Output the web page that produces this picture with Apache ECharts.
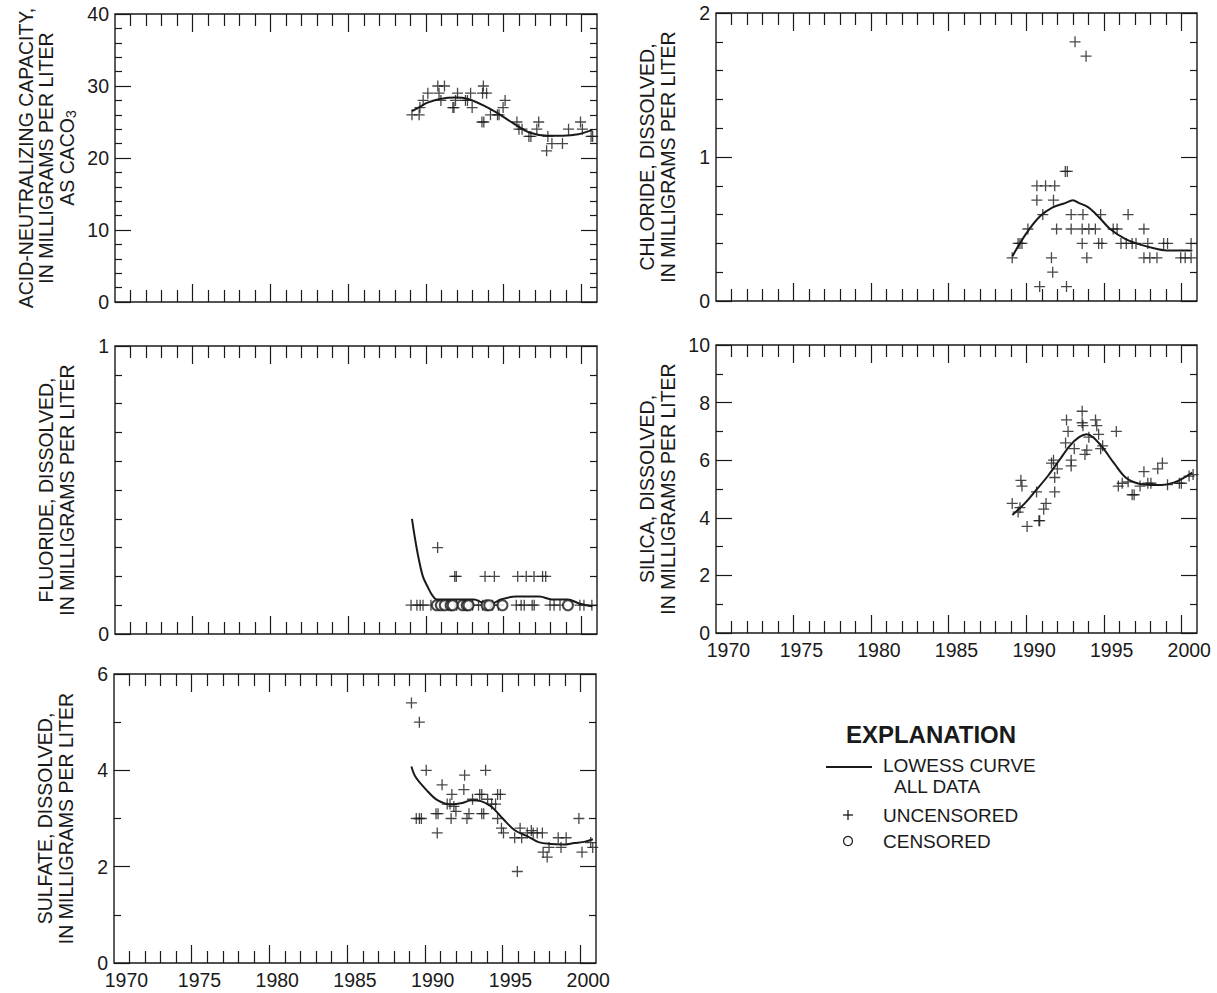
<!DOCTYPE html>
<html>
<head>
<meta charset="utf-8">
<script src="https://cdn.jsdelivr.net/npm/echarts@6/dist/echarts.min.js"></script>
<style>
html,body{margin:0;padding:0;background:#fff;}
#chart{width:1217px;height:993px;}
</style>
</head>
<body>
<div id="chart"></div>
<script>
// ---------- axis ticks / labels ----------
const X_MIN = 1970;
const X_MAX = 2001;
const MAJOR_YEARS = [1975, 1980, 1985, 1990, 1995, 2000];
const MINOR_YEARS = [1971,1972,1973,1974,1976,1977,1978,1979,1981,1982,1983,1984,1986,1987,1988,1989,1991,1992,1993,1994,1996,1997,1998,1999];
const YEAR_LABELS = [1970, 1975, 1980, 1985, 1990, 1995, 2000];

// ---------- Panel 1: acid-neutralizing capacity ----------
const ANC_UNCENSORED = [
  [1989.10,26],[1989.56,26],[1989.61,27],[1989.82,28],[1990.12,29],[1990.76,30],[1991.19,30],
  [1990.84,29],[1990.96,28],[1991.73,27],[1991.80,27],[1991.90,28],[1992.03,29],[1992.54,28],
  [1992.67,28],[1992.87,29],[1992.97,27],[1993.69,30],[1993.64,29],[1993.90,29],[1993.60,25],
  [1993.72,25],[1994.15,26],[1994.60,26],[1994.70,26],[1994.96,27],[1995.09,28],[1995.85,25],
  [1995.98,24],[1996.18,24],[1996.62,23],[1996.75,23],[1997.25,25],[1997.13,24],[1997.76,21],
  [1997.84,23],[1998.10,22],[1998.78,22],[1999.17,24],[1999.94,25],[2000.06,24],[2000.62,23],[2000.72,23]
];
const ANC_LOWESS = [
  [1989.1,26.5],[1989.6,27.1],[1990.1,27.7],[1990.9,28.2],[1991.9,28.4],[1992.7,28.2],[1993.7,27.3],
  [1994.7,26.1],[1995.7,24.7],[1996.7,23.5],[1997.8,23.1],[1998.8,23.1],[1999.8,23.3],[2000.7,23.9]
];

// ---------- Panel 2: chloride ----------
const CL_UNCENSORED = [
  [1989.09,0.3],[1989.47,0.4],[1989.59,0.4],[1989.72,0.4],[1990.10,0.5],[1990.68,0.8],[1991.24,0.8],
  [1991.83,0.8],[1990.68,0.7],[1991.75,0.7],[1991.06,0.6],[1990.86,0.1],[1991.62,0.3],[1991.70,0.2],
  [1991.95,0.5],[1992.51,0.9],[1992.64,0.9],[1992.59,0.1],[1993.14,1.8],[1993.85,1.7],[1992.89,0.6],
  [1993.65,0.6],[1992.89,0.5],[1993.60,0.5],[1994.03,0.5],[1994.45,0.5],[1993.60,0.4],[1993.90,0.3],
  [1994.79,0.6],[1994.66,0.4],[1994.87,0.4],[1995.60,0.5],[1995.85,0.5],[1996.56,0.6],[1996.10,0.4],
  [1996.44,0.4],[1996.82,0.4],[1997.07,0.4],[1997.83,0.4],[1997.58,0.5],[1997.58,0.3],[1997.96,0.3],
  [1998.42,0.3],[1998.85,0.4],[1999.10,0.4],[1999.95,0.3],[2000.24,0.3],[2000.62,0.3],[2000.62,0.4]
];
const CL_LOWESS = [
  [1989.1,0.31],[1990.0,0.47],[1990.9,0.59],[1991.7,0.65],[1992.5,0.68],[1993.0,0.70],[1993.4,0.68],
  [1994.0,0.65],[1994.7,0.58],[1995.4,0.50],[1996.4,0.43],[1997.4,0.39],[1998.5,0.36],[1999.2,0.35],[2000.7,0.35]
];

// ---------- Panel 3: fluoride ----------
const F_UNCENSORED = [
  [1989.04,0.1],[1989.42,0.1],[1989.63,0.1],[1989.81,0.1],[1990.32,0.1],[1991.42,0.1],[1991.98,0.1],
  [1993.00,0.1],[1993.38,0.1],[1993.64,0.1],[1994.28,0.1],[1994.66,0.1],[1995.81,0.1],[1996.12,0.1],
  [1996.32,0.1],[1996.83,0.1],[1996.96,0.1],[1997.98,0.1],[1998.24,0.1],[1998.62,0.1],[1999.90,0.1],
  [2000.16,0.1],[2000.67,0.1],
  [1990.75,0.3],
  [1991.85,0.2],[1991.95,0.2],[1993.80,0.2],[1994.40,0.2],[1995.90,0.2],[1996.45,0.2],[1996.95,0.2],
  [1997.50,0.2],[1997.70,0.2]
];
const F_CENSORED = [
  [1990.70,0.1],[1990.96,0.1],[1991.21,0.1],[1991.59,0.1],[1991.72,0.1],[1992.36,0.1],[1992.62,0.1],
  [1992.74,0.1],[1993.90,0.1],[1994.07,0.1],[1994.92,0.1],[1999.13,0.1]
];
const F_LOWESS = [
  [1989.1,0.40],[1989.3,0.33],[1989.5,0.27],[1989.8,0.20],[1990.1,0.165],[1990.4,0.135],[1990.7,0.12],
  [1991.7,0.12],[1993.1,0.12],[1993.6,0.11],[1994.3,0.107],[1994.8,0.12],[1995.8,0.13],[1997.3,0.13],
  [1998.1,0.12],[1999.1,0.12],[1999.9,0.105],[2000.7,0.096]
];

// ---------- Panel 4: silica ----------
const SI_UNCENSORED = [
  [1989.09,4.5],[1989.47,4.2],[1989.59,4.35],[1989.65,5.3],[1989.72,5.1],[1990.05,3.7],[1990.66,4.9],
  [1990.81,3.9],[1990.86,3.9],[1991.12,4.3],[1991.27,4.5],[1991.62,5.9],[1991.75,6.0],[1991.83,5.4],
  [1991.83,4.9],[1992.00,5.7],[1992.53,6.6],[1992.59,7.4],[1992.69,7.0],[1992.89,6.0],[1992.89,5.8],
  [1993.09,6.4],[1993.60,7.7],[1993.60,7.3],[1993.65,7.2],[1993.78,6.2],[1993.90,6.35],[1994.03,6.8],
  [1994.46,7.4],[1994.54,7.2],[1994.66,6.9],[1994.79,6.4],[1994.92,6.5],[1995.80,7.0],[1995.93,5.1],
  [1996.18,5.2],[1996.56,5.25],[1996.82,4.8],[1996.95,4.8],[1997.33,5.1],[1997.58,5.6],[1997.83,5.2],
  [1998.03,5.2],[1998.47,5.7],[1998.77,5.9],[1999.10,5.15],[1999.86,5.2],[1999.99,5.2],[2000.49,5.45],[2000.75,5.5]
];
const SI_LOWESS = [
  [1989.1,4.1],[1989.9,4.5],[1990.6,4.94],[1991.4,5.46],[1992.1,5.98],[1992.8,6.5],[1993.4,6.8],
  [1993.9,6.9],[1994.3,6.8],[1994.9,6.45],[1995.7,5.86],[1996.4,5.4],[1997.2,5.19],[1998.0,5.14],
  [1998.7,5.14],[1999.5,5.22],[2000.2,5.4],[2000.7,5.57]
];

// ---------- Panel 5: sulfate ----------
const SO4_UNCENSORED = [
  [1989.13,5.4],[1989.64,5.0],[1989.44,3.0],[1989.64,3.0],[1989.77,3.0],[1990.08,4.0],[1990.71,3.1],
  [1990.84,3.1],[1990.79,2.7],[1991.10,3.7],[1991.43,3.3],[1991.61,3.3],[1991.73,3.5],[1991.68,3.0],
  [1991.86,3.25],[1991.99,3.15],[1992.55,3.9],[1992.50,3.6],[1992.70,3.0],[1992.83,3.1],[1993.06,3.4],
  [1993.52,3.5],[1993.65,3.5],[1993.65,3.1],[1993.78,3.1],[1993.90,4.0],[1994.03,3.4],[1994.29,3.3],
  [1994.54,3.3],[1994.67,3.5],[1994.85,3.5],[1994.67,3.0],[1994.92,2.8],[1995.05,2.7],[1995.77,2.6],
  [1995.94,1.9],[1996.12,2.8],[1996.22,2.6],[1996.58,2.7],[1996.84,2.75],[1996.96,2.7],[1997.22,2.7],
  [1997.55,2.7],[1997.60,2.3],[1997.86,2.2],[1997.98,2.4],[1998.57,2.6],[1998.75,2.4],[1999.08,2.6],
  [1999.90,3.0],[2000.10,2.3],[2000.66,2.5],[2000.79,2.4]
];
const SO4_LOWESS = [
  [1989.13,4.08],[1989.4,3.86],[1990.1,3.59],[1990.8,3.38],[1991.7,3.29],[1992.4,3.32],[1993.0,3.38],
  [1993.6,3.36],[1994.3,3.24],[1995.0,3.0],[1995.8,2.75],[1996.6,2.63],[1997.3,2.51],[1998.1,2.47],
  [1998.9,2.46],[1999.6,2.49],[2000.3,2.52],[2000.8,2.57]
];

// ---------- layout ----------
const FONT = '"Liberation Sans", Arial, Helvetica, sans-serif';
const INK = '#1a1a1a';
const PLUS = 'path://M0,5L10,5M5,0L5,10';
const TICK_FONT = 19.5;
const TITLE_FONT = 19.5;
// year labels sit inside their year interval; the first one is nudged clear of the y-axis "0"
const LABEL_POS = YEAR_LABELS.map((y, i) => y + (i === 0 ? 0.8 : 0.5));

const panels = [
  {grid:{left:115, top:14, width:482, height:288}, yMin:0, yMax:40, yInt:10, ySplit:5,
   name:'ACID-NEUTRALIZING CAPACITY,\nIN MILLIGRAMS PER LITER\nAS CACO{sub|3}', xLabels:false,
   unc:ANC_UNCENSORED, cen:null, curve:ANC_LOWESS},
  {grid:{left:716, top:13, width:481, height:288}, yMin:0, yMax:2, yInt:1, ySplit:5,
   name:'CHLORIDE, DISSOLVED,\nIN MILLIGRAMS PER LITER', xLabels:false,
   unc:CL_UNCENSORED, cen:null, curve:CL_LOWESS},
  {grid:{left:115, top:346, width:482, height:288}, yMin:0, yMax:1, yInt:1, ySplit:10,
   name:'FLUORIDE, DISSOLVED,\nIN MILLIGRAMS PER LITER', xLabels:false,
   unc:F_UNCENSORED, cen:F_CENSORED, curve:F_LOWESS},
  {grid:{left:716, top:345, width:481, height:288}, yMin:0, yMax:10, yInt:2, ySplit:2,
   name:'SILICA, DISSOLVED,\nIN MILLIGRAMS PER LITER', xLabels:true,
   unc:SI_UNCENSORED, cen:null, curve:SI_LOWESS},
  {grid:{left:114, top:674, width:482, height:289}, yMin:0, yMax:6, yInt:2, ySplit:2,
   name:'SULFATE, DISSOLVED,\nIN MILLIGRAMS PER LITER', xLabels:true,
   unc:SO4_UNCENSORED, cen:null, curve:SO4_LOWESS}
];

const grids = [], xAxes = [], yAxes = [], series = [];
const tickLine = {color: INK, width: 1.2};

panels.forEach((p, gi) => {
  grids.push(Object.assign({show:true, borderColor:INK, borderWidth:1.4, backgroundColor:'transparent', containLabel:false}, p.grid));
  const xb = {type:'value', gridIndex:gi, min:X_MIN, max:X_MAX, splitLine:{show:false}, axisLine:{show:false}};
  ['bottom','top'].forEach(pos => {
    xAxes.push(Object.assign({}, xb, {position:pos,
      axisTick:{show:true, inside:true, length:12, customValues:MINOR_YEARS, lineStyle:tickLine},
      axisLabel:{show:false}}));
    const lbl = (pos === 'bottom' && p.xLabels)
      ? {show:true, customValues:LABEL_POS, formatter:v => String(Math.floor(v)),
         margin:9, fontSize:TICK_FONT, lineHeight:16, fontFamily:FONT, color:INK}
      : {show:false};
    xAxes.push(Object.assign({}, xb, {position:pos,
      axisTick:{show:true, inside:true, length:18, customValues:MAJOR_YEARS, lineStyle:tickLine},
      axisLabel:lbl}));
  });
  const yb = {type:'value', gridIndex:gi, min:p.yMin, max:p.yMax, interval:p.yInt,
    splitLine:{show:false}, axisLine:{show:false},
    axisTick:{show:true, inside:true, length:16, lineStyle:tickLine},
    minorTick:{show:true, splitNumber:p.ySplit, length:7, lineStyle:tickLine}};
  yAxes.push(Object.assign({}, yb, {position:'left',
    axisLabel:{margin:6, fontSize:TICK_FONT, lineHeight:14, fontFamily:FONT, color:INK},
    name:p.name, nameLocation:'middle', nameRotate:90, nameGap:38,
    nameTextStyle:{fontSize:TITLE_FONT, fontFamily:FONT, color:INK, lineHeight:20.5, align:'center',
      rich:{sub:{fontSize:14, fontFamily:FONT, color:INK, padding:[9,0,0,0]}}}}));
  yAxes.push(Object.assign({}, yb, {position:'right', axisLabel:{show:false}}));

  const xi = gi * 4, yi = gi * 2;
  series.push({type:'line', xAxisIndex:xi, yAxisIndex:yi, data:p.curve, smooth:0.35, showSymbol:false,
    lineStyle:{color:INK, width:2}, silent:true, z:3});
  series.push({type:'scatter', xAxisIndex:xi, yAxisIndex:yi, data:p.unc, symbol:PLUS, symbolSize:11,
    itemStyle:{color:'rgba(0,0,0,0)', borderColor:INK, borderWidth:1.3}, silent:true, z:4});
  if (p.cen) {
    series.push({type:'scatter', xAxisIndex:xi, yAxisIndex:yi, data:p.cen, symbol:'emptyCircle', symbolSize:10,
      itemStyle:{color:INK, borderColor:INK, borderWidth:1.2}, silent:true, z:4});
  }
});

const legendText = {fontFamily:FONT, fontSize:19, fill:INK, verticalAlign:'middle', align:'left'};
const graphic = [
  {type:'text', x:931, y:734, style:Object.assign({}, legendText, {text:'EXPLANATION', fontSize:24, fontWeight:'bold', align:'center'})},
  {type:'line', shape:{x1:826, y1:767, x2:872, y2:767}, style:{stroke:INK, lineWidth:2}},
  {type:'text', x:883, y:765, style:Object.assign({}, legendText, {text:'LOWESS CURVE'})},
  {type:'text', x:894, y:786, style:Object.assign({}, legendText, {text:'ALL DATA'})},
  {type:'line', shape:{x1:843, y1:815, x2:853, y2:815}, style:{stroke:INK, lineWidth:1.3}},
  {type:'line', shape:{x1:848, y1:810, x2:848, y2:820}, style:{stroke:INK, lineWidth:1.3}},
  {type:'text', x:883, y:815, style:Object.assign({}, legendText, {text:'UNCENSORED'})},
  {type:'circle', shape:{cx:848, cy:841, r:4.5}, style:{stroke:INK, lineWidth:1.2, fill:'#fff'}},
  {type:'text', x:883, y:841, style:Object.assign({}, legendText, {text:'CENSORED'})}
];

const chart = echarts.init(document.getElementById('chart'), null, {renderer:'svg'});
chart.setOption({
  backgroundColor:'#fff',
  animation:false,
  textStyle:{fontFamily:FONT, color:INK},
  grid:grids, xAxis:xAxes, yAxis:yAxes, series:series, graphic:graphic
});
</script>
</body>
</html>
